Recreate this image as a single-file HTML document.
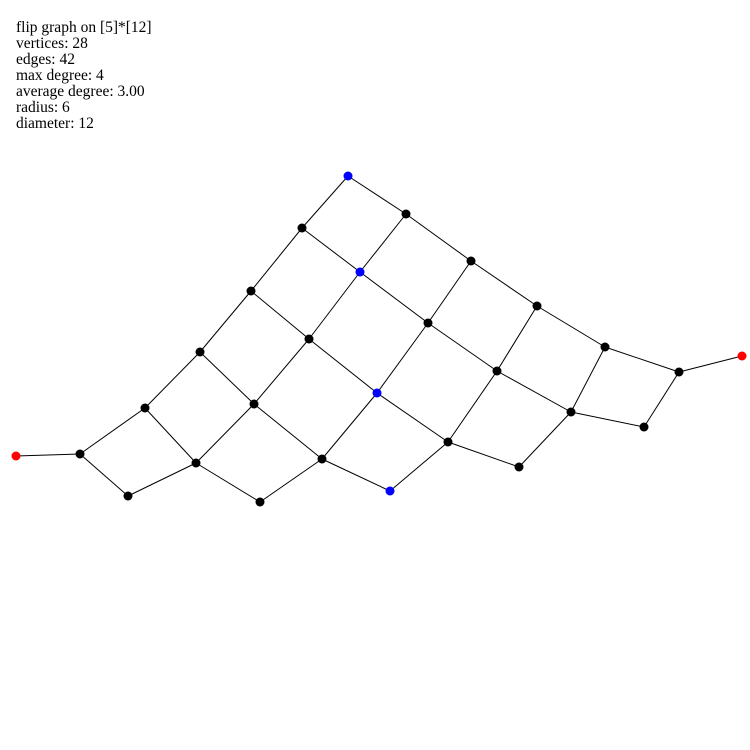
<!DOCTYPE html>
<html><head><meta charset="utf-8"><style>
body{margin:0;background:#fff;width:750px;height:750px;overflow:hidden}
#info{position:absolute;left:16px;top:20px;font-family:"Liberation Serif",serif;font-size:15.5px;line-height:16px;color:#000}
svg{position:absolute;left:0;top:0}
</style></head><body>
<div id="info">
<div>flip graph on [5]*[12]</div>
<div>vertices: 28</div>
<div>edges: 42</div>
<div>max degree: 4</div>
<div>average degree: 3.00</div>
<div>radius: 6</div>
<div>diameter: 12</div>
</div>
<svg id="g" width="750" height="750"></svg>
<script>
const nodeX=[16,80,128,145,196,200,260,254,251,302,348,406,360,309,322,377,390,428,471,448,497,537,519,571,605,644,679,742];
const nodeY=[456,454,496,408,463,352,502,404,291,228,176,214,272,339,459,393,491,323,261,442,371,306,467,412,347,427,372,356];
const nodeColor=["red","k","k","k","k","k","k","k","k","k","blue","k","blue","k","k","blue","blue","k","k","k","k","k","k","k","k","k","k","red"];
const edgeFrom=[1,2,2,3,4,4,5,5,6,6,7,8,8,9,9,10,10,11,12,12,13,13,14,15,15,16,16,17,18,18,19,20,20,21,21,22,23,24,24,25,26,27];
const edgeTo=[2,3,4,5,5,6,7,8,8,9,15,15,14,14,10,11,13,12,13,19,14,18,16,16,17,18,20,20,19,21,22,21,23,22,24,25,24,25,26,27,27,28];
const svg=document.getElementById('g');const NS='http://www.w3.org/2000/svg';
const cmap={red:'#f00',blue:'#00f',k:'#000'};
for(let i=0;i<edgeFrom.length;i++){
 const a=edgeFrom[i]-1,b=edgeTo[i]-1;
 const l=document.createElementNS(NS,'line');
 l.setAttribute('x1',nodeX[a]);l.setAttribute('y1',nodeY[a]);l.setAttribute('x2',nodeX[b]);l.setAttribute('y2',nodeY[b]);
 l.setAttribute('stroke','#000');l.setAttribute('stroke-width','1');
 
 
 svg.appendChild(l);
}
for(let i=0;i<nodeX.length;i++){
 const c=document.createElementNS(NS,'circle');
 c.setAttribute('cx',nodeX[i]);c.setAttribute('cy',nodeY[i]);c.setAttribute('r','4.5');
 c.setAttribute('fill',cmap[nodeColor[i]]);
 
 
 svg.appendChild(c);
}
</script>
</body></html>
